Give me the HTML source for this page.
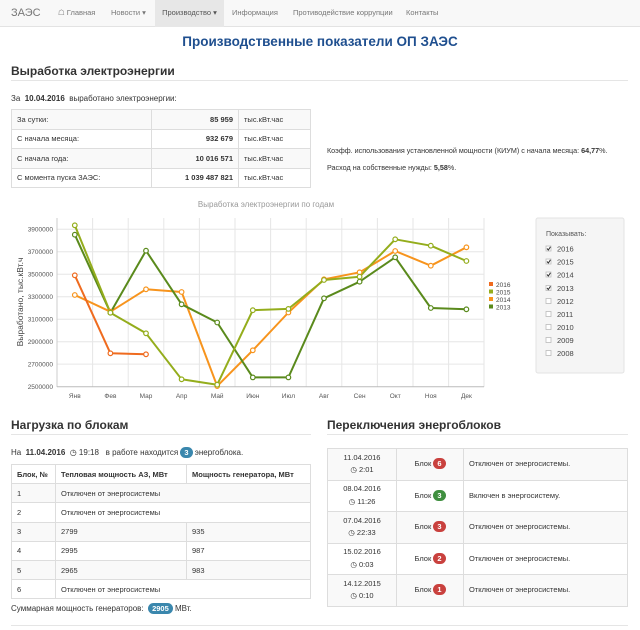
<!DOCTYPE html>
<html><head><meta charset="utf-8"><style>
*{margin:0;padding:0;box-sizing:border-box}
body{width:640px;height:630px;overflow:hidden;background:#fff;font-family:"Liberation Sans","DejaVu Sans",sans-serif;color:#333;font-size:8px;position:relative}
.a{position:absolute;white-space:nowrap}
.nav{position:absolute;left:0;top:0;width:640px;height:27px;background:#f8f8f8;border-bottom:1px solid #e3e3e3}
.nav span{position:absolute;top:0;line-height:26px;color:#777;font-size:7.5px}
h2{position:absolute;font-size:12px;font-weight:bold;color:#333;white-space:nowrap}
.hr{position:absolute;height:1px;background:#e5e5e5}
table{position:absolute;border-collapse:collapse;font-size:7.5px}
td,th{border:1px solid #ddd;padding:0 5px;text-align:left;white-space:nowrap}
.s td,.s th{background:#f9f9f9}
.b{display:inline-block;border-radius:8px;color:#fff;font-weight:bold;padding:0 4px;line-height:11px;font-size:7.5px}
</style></head><body>
<div class="nav">
<span style="left:11px;font-size:11px;color:#777">ЗАЭС</span>
<span style="left:58px;color:#777">&#9750; Главная</span>
<span style="left:111px">Новости ▾</span>
<span style="left:155px;width:69px;height:27px;background:#e7e7e7;text-align:center;color:#555">Производство ▾</span>
<span style="left:232px">Информация</span>
<span style="left:293px">Противодействие коррупции</span>
<span style="left:406px">Контакты</span>
</div>
<div class="a" style="left:0;width:640px;top:34px;text-align:center;font-size:13.5px;font-weight:bold;color:#1f4f8f">Производственные показатели ОП ЗАЭС</div>
<h2 style="left:11px;top:64px">Выработка электроэнергии</h2>
<div class="hr" style="left:11px;top:80px;width:617px"></div>
<div class="a" style="left:11px;top:94px">За&nbsp; <b>10.04.2016</b>&nbsp; выработано электроэнергии:</div>
<table style="left:11px;top:109px;width:300px">
<tr class="s" style="height:19.5px"><td style="width:140px">За сутки:</td><td style="width:87px;text-align:right"><b>85 959</b></td><td>тыс.кВт.час</td></tr>
<tr style="height:19.5px"><td>С начала месяца:</td><td style="text-align:right"><b>932 679</b></td><td>тыс.кВт.час</td></tr>
<tr class="s" style="height:19.5px"><td>С начала года:</td><td style="text-align:right"><b>10 016 571</b></td><td>тыс.кВт.час</td></tr>
<tr style="height:19.5px"><td>С момента пуска ЗАЭС:</td><td style="text-align:right"><b>1 039 487 821</b></td><td>тыс.кВт.час</td></tr>
</table>
<div class="a" style="left:327px;top:146px;font-size:7.2px">Коэфф. использования установленной мощности (КИУМ) с начала месяца: <b>64,77</b>%.</div>
<div class="a" style="left:327px;top:163px;font-size:7.2px">Расход на собственные нужды: <b>5,58</b>%.</div>

<svg class="a" style="left:0;top:195px" width="640" height="210" viewBox="0 195 640 210" font-family="Liberation Sans, sans-serif">
<text x="266" y="207" font-size="8" fill="#999" text-anchor="middle">Выработка электроэнергии по годам</text>
<g stroke="#e6e6e6" stroke-width="1">
<line x1="57" x2="484" y1="229.3" y2="229.3"/><line x1="57" x2="484" y1="251.8" y2="251.8"/><line x1="57" x2="484" y1="274.2" y2="274.2"/><line x1="57" x2="484" y1="296.7" y2="296.7"/><line x1="57" x2="484" y1="319.2" y2="319.2"/><line x1="57" x2="484" y1="341.7" y2="341.7"/><line x1="57" x2="484" y1="364.1" y2="364.1"/>
<line x1="92.6" x2="92.6" y1="218" y2="387"/><line x1="128.2" x2="128.2" y1="218" y2="387"/><line x1="163.8" x2="163.8" y1="218" y2="387"/><line x1="199.4" x2="199.4" y1="218" y2="387"/><line x1="235" x2="235" y1="218" y2="387"/><line x1="270.6" x2="270.6" y1="218" y2="387"/><line x1="306.2" x2="306.2" y1="218" y2="387"/><line x1="341.8" x2="341.8" y1="218" y2="387"/><line x1="377.4" x2="377.4" y1="218" y2="387"/><line x1="413" x2="413" y1="218" y2="387"/><line x1="448.6" x2="448.6" y1="218" y2="387"/><line x1="484" x2="484" y1="218" y2="387"/>
</g>
<line x1="57" x2="57" y1="218" y2="387" stroke="#ccc"/>
<line x1="57" x2="484" y1="386.7" y2="386.7" stroke="#bbb"/>
<g font-size="6.5" fill="#555" text-anchor="end">
<text x="53" y="231.5">3900000</text><text x="53" y="254">3700000</text><text x="53" y="276.5">3500000</text><text x="53" y="299">3300000</text><text x="53" y="321.5">3100000</text><text x="53" y="344">2900000</text><text x="53" y="366.5">2700000</text><text x="53" y="389">2500000</text>
</g>
<text transform="translate(23,302) rotate(-90)" font-size="8.5" fill="#444" text-anchor="middle">Выработано, тыс.кВт.ч</text>
<g font-size="6.5" fill="#555" text-anchor="middle">
<text x="74.8" y="398">Янв</text><text x="110.4" y="398">Фев</text><text x="146" y="398">Мар</text><text x="181.6" y="398">Апр</text><text x="217.2" y="398">Май</text><text x="252.8" y="398">Июн</text><text x="288.4" y="398">Июл</text><text x="324" y="398">Авг</text><text x="359.6" y="398">Сен</text><text x="395.2" y="398">Окт</text><text x="430.8" y="398">Ноя</text><text x="466.4" y="398">Дек</text>
</g>
<g fill="none" stroke-width="2" stroke-linejoin="round">
<polyline stroke="#f7941d" points="74.8,295 110.4,311.7 146,289.3 181.6,292 217.2,386.1 252.8,350.3 288.4,312.5 324,279.3 359.6,272.3 395.2,251 430.8,265.7 466.4,247.3"/>
<polyline stroke="#5a8a1c" points="74.8,234.7 110.4,312.7 146,250.7 181.6,304.3 217.2,322.5 252.8,377.4 288.4,377.4 324,298.3 359.6,281.7 395.2,257.3 430.8,308 466.4,309.3"/>
<polyline stroke="#94ad1c" points="74.8,225.3 110.4,312.7 146,333.3 181.6,379.3 217.2,384.7 252.8,310.2 288.4,308.9 324,280 359.6,276.7 395.2,239.3 430.8,245.7 466.4,261"/>
<polyline stroke="#ef6b1f" points="74.8,275.3 110.4,353.3 146,354.3"/>
</g>
<g fill="#fff" stroke-width="1.2">
<g stroke="#f7941d"><circle cx="74.8" cy="295" r="2.3"/><circle cx="110.4" cy="311.7" r="2.3"/><circle cx="146" cy="289.3" r="2.3"/><circle cx="181.6" cy="292" r="2.3"/><circle cx="217.2" cy="386.1" r="2.3"/><circle cx="252.8" cy="350.3" r="2.3"/><circle cx="288.4" cy="312.5" r="2.3"/><circle cx="324" cy="279.3" r="2.3"/><circle cx="359.6" cy="272.3" r="2.3"/><circle cx="395.2" cy="251" r="2.3"/><circle cx="430.8" cy="265.7" r="2.3"/><circle cx="466.4" cy="247.3" r="2.3"/></g>
<g stroke="#5a8a1c"><circle cx="74.8" cy="234.7" r="2.3"/><circle cx="110.4" cy="312.7" r="2.3"/><circle cx="146" cy="250.7" r="2.3"/><circle cx="181.6" cy="304.3" r="2.3"/><circle cx="217.2" cy="322.5" r="2.3"/><circle cx="252.8" cy="377.4" r="2.3"/><circle cx="288.4" cy="377.4" r="2.3"/><circle cx="324" cy="298.3" r="2.3"/><circle cx="359.6" cy="281.7" r="2.3"/><circle cx="395.2" cy="257.3" r="2.3"/><circle cx="430.8" cy="308" r="2.3"/><circle cx="466.4" cy="309.3" r="2.3"/></g>
<g stroke="#94ad1c"><circle cx="74.8" cy="225.3" r="2.3"/><circle cx="110.4" cy="312.7" r="2.3"/><circle cx="146" cy="333.3" r="2.3"/><circle cx="181.6" cy="379.3" r="2.3"/><circle cx="217.2" cy="384.7" r="2.3"/><circle cx="252.8" cy="310.2" r="2.3"/><circle cx="288.4" cy="308.9" r="2.3"/><circle cx="324" cy="280" r="2.3"/><circle cx="359.6" cy="276.7" r="2.3"/><circle cx="395.2" cy="239.3" r="2.3"/><circle cx="430.8" cy="245.7" r="2.3"/><circle cx="466.4" cy="261" r="2.3"/></g>
<g stroke="#ef6b1f"><circle cx="74.8" cy="275.3" r="2.3"/><circle cx="110.4" cy="353.3" r="2.3"/><circle cx="146" cy="354.3" r="2.3"/></g>
</g>
<g font-size="6.5" fill="#444">
<rect x="489" y="282" width="4" height="4" fill="#ef6b1f"/><text x="496" y="287">2016</text>
<rect x="489" y="289.5" width="4" height="4" fill="#94ad1c"/><text x="496" y="294.5">2015</text>
<rect x="489" y="297" width="4" height="4" fill="#f7941d"/><text x="496" y="302">2014</text>
<rect x="489" y="304.5" width="4" height="4" fill="#5a8a1c"/><text x="496" y="309.5">2013</text>
</g>
<rect x="536" y="218" width="88" height="155" rx="2" fill="#f5f5f5" stroke="#e3e3e3"/>
<text x="546" y="236" font-size="7" fill="#555">Показывать:</text>
<g font-size="7.5" fill="#444">
<g fill="#fff" stroke="#bbb" stroke-width="0.8">
<rect x="546" y="246" width="5" height="5"/><rect x="546" y="259" width="5" height="5"/><rect x="546" y="272" width="5" height="5"/><rect x="546" y="285.5" width="5" height="5"/><rect x="546" y="298.5" width="5" height="5"/><rect x="546" y="311.5" width="5" height="5"/><rect x="546" y="324.5" width="5" height="5"/><rect x="546" y="337.5" width="5" height="5"/><rect x="546" y="350.5" width="5" height="5"/>
</g>
<g stroke="#333" stroke-width="1" fill="none">
<polyline points="547,248.5 548.3,250 550.5,246.8"/><polyline points="547,261.5 548.3,263 550.5,259.8"/><polyline points="547,274.5 548.3,276 550.5,272.8"/><polyline points="547,288 548.3,289.5 550.5,286.3"/>
</g>
<text x="557" y="251.5">2016</text><text x="557" y="264.5">2015</text><text x="557" y="277.5">2014</text><text x="557" y="291">2013</text><text x="557" y="304">2012</text><text x="557" y="317">2011</text><text x="557" y="330">2010</text><text x="557" y="343">2009</text><text x="557" y="356">2008</text>
</g>
</svg>

<h2 style="left:11px;top:418px">Нагрузка по блокам</h2>
<div class="hr" style="left:11px;top:434px;width:300px"></div>
<h2 style="left:327px;top:418px">Переключения энергоблоков</h2>
<div class="hr" style="left:327px;top:434px;width:301px"></div>
<div class="a" style="left:11px;top:447px">На&nbsp; <b>11.04.2016</b>&nbsp; ◷ 19:18&nbsp;&nbsp; в работе находится <span class="b" style="background:#3a87ad">3</span> энергоблока.</div>
<table style="left:11px;top:464px;width:300px">
<tr style="height:19.3px"><th style="width:44px">Блок, №</th><th style="width:131px">Тепловая мощность АЗ, МВт</th><th>Мощность генератора, МВт</th></tr>
<tr class="s" style="height:19.2px"><td>1</td><td colspan="2">Отключен от энергосистемы</td></tr>
<tr style="height:19.2px"><td>2</td><td colspan="2">Отключен от энергосистемы</td></tr>
<tr class="s" style="height:19.2px"><td>3</td><td>2799</td><td>935</td></tr>
<tr style="height:19.2px"><td>4</td><td>2995</td><td>987</td></tr>
<tr class="s" style="height:19.2px"><td>5</td><td>2965</td><td>983</td></tr>
<tr style="height:19.2px"><td>6</td><td colspan="2">Отключен от энергосистемы</td></tr>
</table>
<div class="a" style="left:11px;top:603px">Суммарная мощность генераторов:&nbsp; <span class="b" style="background:#3a87ad">2905</span> МВт.</div>
<table style="left:327px;top:448px;width:301px;line-height:12.5px">
<tr class="s" style="height:31.5px"><td style="width:69px;text-align:center">11.04.2016<br>◷ 2:01</td><td style="width:67px;text-align:center">Блок <span class="b" style="background:#c9413e">6</span></td><td>Отключен от энергосистемы.</td></tr>
<tr style="height:31.5px"><td style="text-align:center">08.04.2016<br>◷ 11:26</td><td style="text-align:center">Блок <span class="b" style="background:#3f8f3f">3</span></td><td>Включен в энергосистему.</td></tr>
<tr class="s" style="height:31.5px"><td style="text-align:center">07.04.2016<br>◷ 22:33</td><td style="text-align:center">Блок <span class="b" style="background:#c9413e">3</span></td><td>Отключен от энергосистемы.</td></tr>
<tr style="height:31.5px"><td style="text-align:center">15.02.2016<br>◷ 0:03</td><td style="text-align:center">Блок <span class="b" style="background:#c9413e">2</span></td><td>Отключен от энергосистемы.</td></tr>
<tr class="s" style="height:31.5px"><td style="text-align:center">14.12.2015<br>◷ 0:10</td><td style="text-align:center">Блок <span class="b" style="background:#c9413e">1</span></td><td>Отключен от энергосистемы.</td></tr>
</table>
<div class="hr" style="left:11px;top:625px;width:617px"></div>
</body></html>
